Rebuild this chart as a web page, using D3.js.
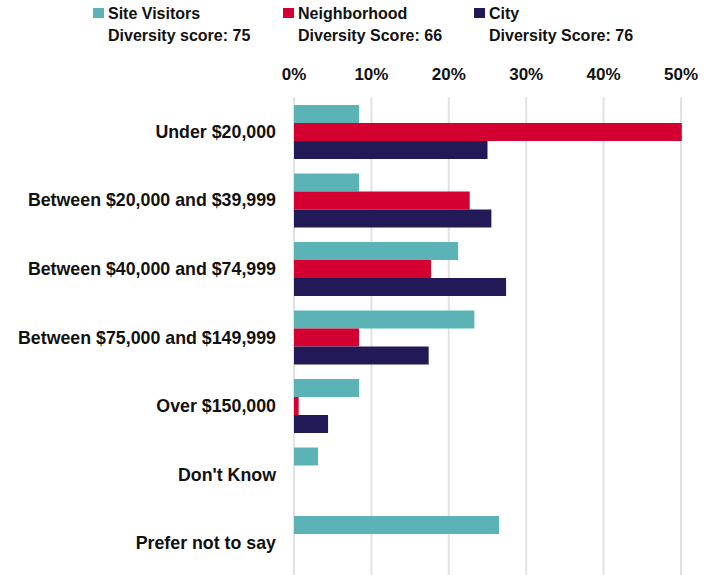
<!DOCTYPE html>
<html>
<head>
<meta charset="utf-8">
<script src="https://cdn.jsdelivr.net/npm/d3@7"></script>
<style>
  html, body { margin: 0; padding: 0; background: #fff; }
  svg { display: block; font-family: "Liberation Sans", Arial, sans-serif; }
</style>
</head>
<body>
<svg id="chart" width="714" height="575"></svg>
<script>
const categories = [
  "Under $20,000",
  "Between $20,000 and $39,999",
  "Between $40,000 and $74,999",
  "Between $75,000 and $149,999",
  "Over $150,000",
  "Don't Know",
  "Prefer not to say"
];
const seriesNames = ["Site Visitors", "Neighborhood", "City"];
const seriesSubtitles = ["Diversity score: 75", "Diversity Score: 66", "Diversity Score: 76"];
const siteVisitors = [8.4, 8.4, 21.2, 23.3, 8.4, 3.1, 26.5];
const neighborhood = [50.1, 22.7, 17.7, 8.4, 0.6, 0, 0];
const city = [25.0, 25.5, 27.4, 17.4, 4.4, 0, 0];
const tickValues = [0, 10, 20, 30, 40, 50];
const colors = ["#5bb3b5", "#d50032", "#221a56"];

const seriesValues = [siteVisitors, neighborhood, city];
const svg = d3.select("#chart");

const x = d3.scaleLinear().domain([0, 50]).range([294, 681]);
const y = d3.scaleBand().domain(categories).range([97.75, 577.25])
  .paddingInner(0.2117).paddingOuter(0.1058);
const ySub = d3.scaleBand().domain(seriesNames).range([0, y.bandwidth()]);
const color = d3.scaleOrdinal().domain(seriesNames).range(colors);

// gridlines
svg.append("g").selectAll("line").data(tickValues).join("line")
  .attr("x1", d => x(d)).attr("x2", d => x(d))
  .attr("y1", 97).attr("y2", 575)
  .attr("stroke", "#e2e2e2").attr("stroke-width", 2);

// top axis labels
svg.append("g").selectAll("text").data(tickValues).join("text")
  .attr("x", d => x(d)).attr("y", 74)
  .attr("text-anchor", "middle").attr("dominant-baseline", "central")
  .attr("font-size", 17).attr("font-weight", "bold").attr("fill", "#111")
  .text(d => d + "%");

// bars
const groups = svg.append("g").selectAll("g").data(categories).join("g")
  .attr("transform", d => `translate(0,${y(d)})`);
groups.selectAll("rect")
  .data((c, i) => seriesNames.map((s, j) => ({ s, v: seriesValues[j][i] })))
  .join("rect")
  .attr("x", x(0))
  .attr("y", d => ySub(d.s))
  .attr("width", d => Math.max(0, x(d.v) - x(0)))
  .attr("height", ySub.bandwidth())
  .attr("fill", d => color(d.s));

// category labels
svg.append("g").selectAll("text").data(categories).join("text")
  .attr("x", 276).attr("y", d => y(d) + y.bandwidth() / 2)
  .attr("text-anchor", "end").attr("dominant-baseline", "central")
  .attr("font-size", 17.8).attr("font-weight", "bold").attr("fill", "#111")
  .text(d => d);

// legend
const legendX = [93, 283, 474];
const leg = svg.append("g").selectAll("g").data(seriesNames).join("g")
  .attr("transform", (d, i) => `translate(${legendX[i]},0)`);
leg.append("rect").attr("x", 0).attr("y", 8).attr("width", 11).attr("height", 10)
  .attr("fill", d => color(d));
leg.append("text").attr("x", 15).attr("y", 13)
  .attr("dominant-baseline", "central")
  .attr("font-size", 16).attr("font-weight", "bold").attr("fill", "#111")
  .text(d => d);
leg.append("text").attr("x", 15).attr("y", 35)
  .attr("dominant-baseline", "central")
  .attr("font-size", 16).attr("font-weight", "bold").attr("fill", "#111")
  .text((d, i) => seriesSubtitles[i]);
</script>
</body>
</html>
